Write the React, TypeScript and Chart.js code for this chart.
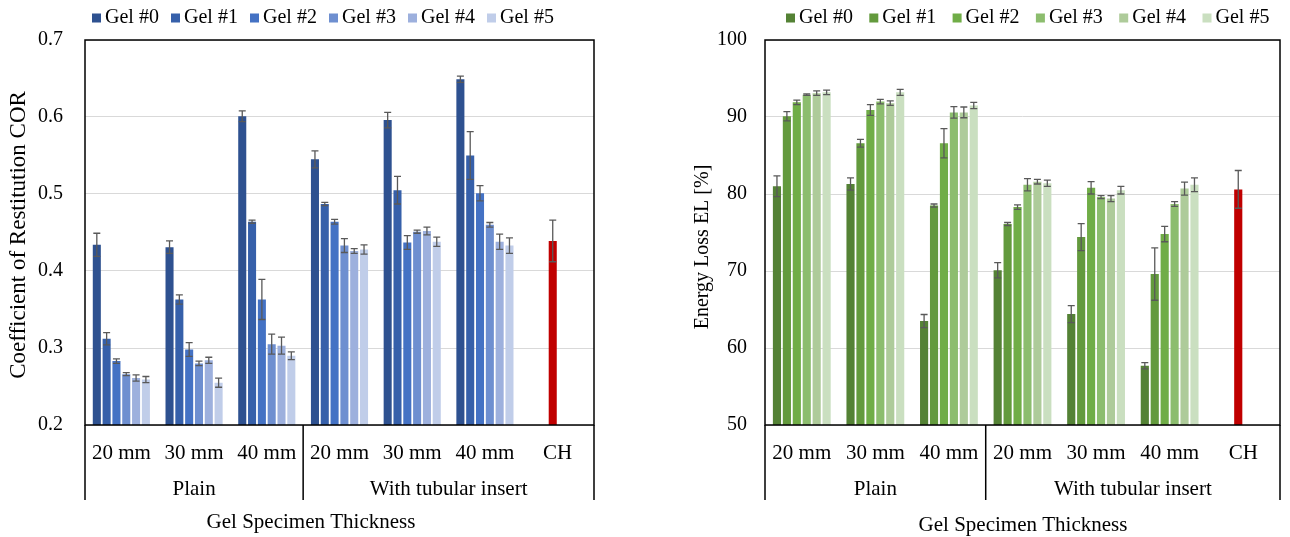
import React, { useEffect, useRef } from 'react';
import { Chart, registerables } from 'chart.js';

Chart.register(...registerables);

// ---------- data ----------
const categories = ['20 mm', '30 mm', '40 mm', '20 mm', '30 mm', '40 mm', 'CH'];
const groupLabels = ['Plain', 'With tubular insert'];
const seriesNames = ['Gel #0', 'Gel #1', 'Gel #2', 'Gel #3', 'Gel #4', 'Gel #5'];
const xAxisTitle = 'Gel Specimen Thickness';

// Coefficient of Restitution (COR)
const corGel0 = [0.434, 0.431, 0.601, 0.545, 0.596, 0.649];
const corGel1 = [0.312, 0.363, 0.464, 0.487, 0.505, 0.55];
const corGel2 = [0.283, 0.298, 0.363, 0.464, 0.437, 0.501];
const corGel3 = [0.266, 0.28, 0.305, 0.433, 0.451, 0.46];
const corGel4 = [0.261, 0.284, 0.303, 0.426, 0.452, 0.438];
const corGel5 = [0.259, 0.255, 0.29, 0.428, 0.438, 0.433];
const corErr0 = [0.015, 0.008, 0.007, 0.011, 0.01, 0.004];
const corErr1 = [0.008, 0.006, 0.002, 0.002, 0.018, 0.031];
const corErr2 = [0.003, 0.009, 0.026, 0.003, 0.009, 0.01];
const corErr3 = [0.002, 0.003, 0.013, 0.009, 0.002, 0.003];
const corErr4 = [0.004, 0.004, 0.011, 0.003, 0.005, 0.01];
const corErr5 = [0.004, 0.006, 0.005, 0.006, 0.006, 0.01];
const corCH = 0.439;
const corCHErr = 0.027;
const corTicks = { min: 0.2, max: 0.7, step: 0.1 };

// Energy Loss (EL) [%]
const elGel0 = [81.0, 81.3, 63.5, 70.1, 64.4, 57.7];
const elGel1 = [90.1, 86.6, 78.5, 76.1, 74.4, 69.6];
const elGel2 = [91.9, 90.9, 86.6, 78.3, 80.8, 74.8];
const elGel3 = [92.9, 92.0, 90.6, 81.2, 79.6, 78.7];
const elGel4 = [93.1, 91.8, 90.6, 81.6, 79.4, 80.7];
const elGel5 = [93.2, 93.2, 91.5, 81.4, 80.5, 81.2];
const elErr0 = [1.35, 0.8, 0.85, 1.0, 1.1, 0.4];
const elErr1 = [0.6, 0.5, 0.2, 0.2, 1.75, 3.4];
const elErr2 = [0.3, 0.7, 1.9, 0.3, 0.8, 1.0];
const elErr3 = [0.1, 0.3, 0.75, 0.8, 0.2, 0.3];
const elErr4 = [0.3, 0.3, 0.7, 0.3, 0.4, 0.85];
const elErr5 = [0.3, 0.4, 0.4, 0.4, 0.5, 0.9];
const elCH = 80.6;
const elCHErr = 2.45;
const elTicks = { min: 50, max: 100, step: 10 };

// ---------- styles ----------
const blues = ['#2E5190', '#3660AA', '#4472C4', '#6E8FD0', '#9DB0DD', '#C0CDE9'];
const greens = ['#548235', '#639A3D', '#70AD47', '#8CBD6E', '#AECB9A', '#CADFC0'];
const chColor = '#C00000';
const FONT = "'Liberation Serif', 'Times New Roman', serif";

const errorBarPlugin = {
  id: 'errorBars',
  afterDatasetsDraw(chart: any) {
    const ctx = chart.ctx;
    const ys = chart.scales.y;
    ctx.save();
    ctx.strokeStyle = '#595959';
    ctx.lineWidth = 1.3;
    chart.data.datasets.forEach((ds: any, i: number) => {
      const meta = chart.getDatasetMeta(i);
      const errs = ds.errors || [];
      meta.data.forEach((el: any, j: number) => {
        const v = ds.data[j];
        const e = errs[j];
        if (v == null || e == null) return;
        const x = el.x;
        const t = ys.getPixelForValue(v + e);
        const b = ys.getPixelForValue(v - e);
        ctx.beginPath();
        ctx.moveTo(x, t);
        ctx.lineTo(x, b);
        ctx.moveTo(x - 3.5, t);
        ctx.lineTo(x + 3.5, t);
        ctx.moveTo(x - 3.5, b);
        ctx.lineTo(x + 3.5, b);
        ctx.stroke();
      });
    });
    ctx.restore();
  },
};

const framePlugin = {
  id: 'frameAndGroups',
  afterDraw(chart: any, _args: any, opts: any) {
    const ctx = chart.ctx;
    const { left, right, top, bottom } = chart.chartArea;
    const xs = chart.scales.x;
    ctx.save();
    // plot frame
    ctx.strokeStyle = '#000';
    ctx.lineWidth = 1.5;
    ctx.strokeRect(left, top, right - left, bottom - top);
    // group separators
    const sep = (xs.getPixelForValue(2) + xs.getPixelForValue(3)) / 2;
    const lineBottom = bottom + opts.sepLength;
    ctx.beginPath();
    [left, sep, right].forEach((x) => {
      ctx.moveTo(x, bottom);
      ctx.lineTo(x, lineBottom);
    });
    ctx.stroke();
    // group labels
    ctx.fillStyle = '#000';
    ctx.font = `21px ${FONT}`;
    ctx.textAlign = 'center';
    ctx.textBaseline = 'middle';
    ctx.fillText(groupLabels[0], (left + sep) / 2, bottom + opts.groupOffset);
    ctx.fillText(groupLabels[1], (sep + right) / 2, bottom + opts.groupOffset);
    // x axis title
    ctx.fillText(xAxisTitle, opts.xTitleX, opts.xTitleY);
    // y axis title
    ctx.save();
    ctx.font = `${opts.yTitleSize}px ${FONT}`;
    ctx.translate(opts.yTitleX, opts.yTitleY);
    ctx.rotate(-Math.PI / 2);
    ctx.fillText(opts.yTitle, 0, 0);
    ctx.restore();
    // legend
    ctx.font = `20px ${FONT}`;
    ctx.textAlign = 'left';
    chart.data.datasets.forEach((ds: any, i: number) => {
      const x = opts.legendX0 + i * opts.legendPitch;
      ctx.fillStyle = ds.legendColor;
      ctx.fillRect(x, opts.legendY - 4.5, 9, 9);
      ctx.fillStyle = '#000';
      ctx.fillText(ds.label, x + 13, opts.legendY);
    });
    ctx.restore();
  },
};

function buildConfig(o: any) {
  const datasets = seriesNames.map((name, i) => ({
    label: name,
    data: [...o.values[i], i === 2 ? o.ch : null],
    errors: [...o.errors[i], i === 2 ? o.chErr : null],
    backgroundColor: categories.map((_, j) => (j === categories.length - 1 ? chColor : o.colors[i])),
    legendColor: o.colors[i],
    borderWidth: 0,
    barPercentage: 0.82,
    categoryPercentage: 0.81,
  }));
  return {
    type: 'bar',
    data: { labels: categories, datasets },
    options: {
      responsive: false,
      animation: false,
      devicePixelRatio: 1,
      layout: { padding: { top: 40, right: o.padRight, bottom: 0, left: 0 } },
      plugins: {
        legend: { display: false },
        tooltip: { enabled: false },
        frameAndGroups: {
          sepLength: 75,
          groupOffset: o.groupOffset,
          legendX0: o.legendX0,
          legendPitch: o.legendPitch,
          legendY: 18,
          xTitleX: o.xTitleX,
          xTitleY: o.xTitleY,
          yTitle: o.yTitle,
          yTitleX: o.yTitleX,
          yTitleY: o.yTitleY,
          yTitleSize: o.yTitleSize,
        },
      },
      scales: {
        x: {
          grid: { display: false, drawTicks: false },
          border: { display: false },
          ticks: { color: '#000', font: { family: FONT, size: 21 }, padding: o.xTickPad, maxRotation: 0, autoSkip: false },
          afterFit: (s: any) => {
            s.height = 112;
          },
        },
        y: {
          min: o.ticks.min,
          max: o.ticks.max,
          grid: { color: '#D9D9D9', lineWidth: 1, drawTicks: false },
          border: { display: false },
          ticks: {
            stepSize: o.ticks.step,
            color: '#000',
            font: { family: FONT, size: 20 },
            padding: o.yTickPad,
            callback: (v: any) => Number(v).toFixed(o.decimals),
          },
          afterFit: (s: any) => {
            s.width = o.yWidth;
          },
        },
      },
    },
    plugins: [errorBarPlugin, framePlugin],
  };
}

function ChartCanvas({ config, width, height, left }: any) {
  const ref = useRef<HTMLCanvasElement | null>(null);
  useEffect(() => {
    const chart = new Chart(ref.current as HTMLCanvasElement, config as any);
    return () => chart.destroy();
  }, []);
  return (
    <canvas
      ref={ref}
      width={width}
      height={height}
      style={{ position: 'absolute', left, top: 0, width, height }}
    />
  );
}

export default function App() {
  const corConfig = buildConfig({
    values: [corGel0, corGel1, corGel2, corGel3, corGel4, corGel5],
    errors: [corErr0, corErr1, corErr2, corErr3, corErr4, corErr5],
    ch: corCH,
    chErr: corCHErr,
    colors: blues,
    ticks: corTicks,
    decimals: 1,
    yTitle: 'Coefficient of Restitution COR',
    yTitleX: 19,
    yTitleY: 235,
    yTitleSize: 23,
    yWidth: 85,
    padRight: 46,
    yTickPad: 22,
    xTickPad: 16,
    xTitleX: 311,
    xTitleY: 522,
    groupOffset: 64,
    legendX0: 92,
    legendPitch: 79,
  });
  const elConfig = buildConfig({
    values: [elGel0, elGel1, elGel2, elGel3, elGel4, elGel5],
    errors: [elErr0, elErr1, elErr2, elErr3, elErr4, elErr5],
    ch: elCH,
    chErr: elCHErr,
    colors: greens,
    ticks: elTicks,
    decimals: 0,
    yTitle: 'Energy Loss EL [%]',
    yTitleX: 63,
    yTitleY: 247,
    yTitleSize: 20,
    yWidth: 125,
    padRight: 10,
    yTickPad: 18,
    xTickPad: 16,
    xTitleX: 383,
    xTitleY: 525,
    groupOffset: 64,
    legendX0: 146,
    legendPitch: 83.3,
  });
  return (
    <div style={{ position: 'fixed', left: 0, top: 0, width: 1290, height: 537, background: '#fff', overflow: 'hidden' }}>
      <ChartCanvas config={corConfig} width={640} height={537} left={0} />
      <ChartCanvas config={elConfig} width={650} height={537} left={640} />
    </div>
  );
}
